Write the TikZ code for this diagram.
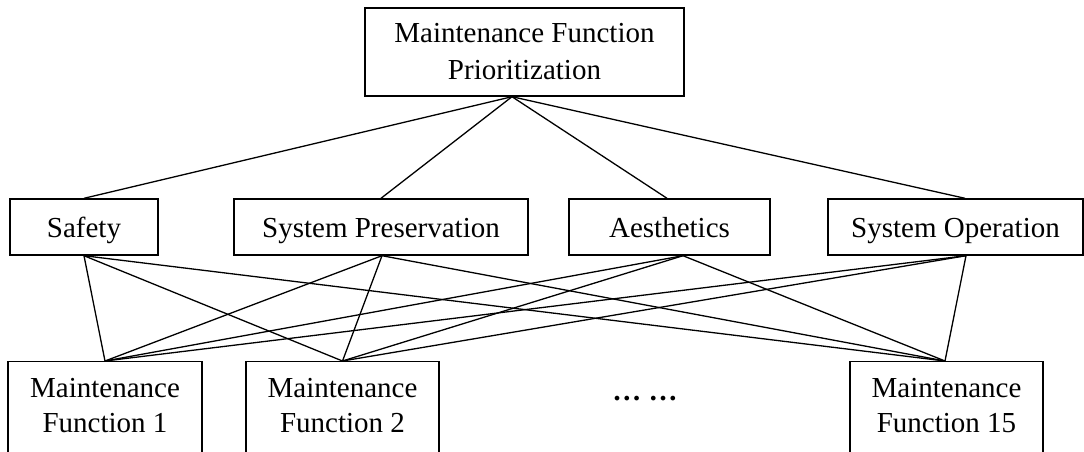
\documentclass[tikz,border=0pt]{standalone}
\usepackage{fontspec}
\setmainfont{Liberation Serif}
\begin{document}
\begin{tikzpicture}[x=1pt,y=-1pt,
  box/.style={draw,line width=1.4pt,inner sep=0pt,align=center,font=\fontsize{29}{35}\selectfont},
  midbox/.style={box,minimum height=56pt,text height=20pt,text depth=0pt},
  botbox/.style={box,anchor=north,inner ysep=17pt,inner xsep=0pt},
  link/.style={line width=1.3pt}]
\useasboundingbox (0,0) rectangle (1084,451);
\node[box,minimum width=319pt,minimum height=88pt,font=\fontsize{29}{37}\selectfont] (top) at (524.5,52) {Maintenance Function\\Prioritization};
\node[midbox,minimum width=148pt] (saf) at (84,227) {Safety};
\node[midbox,minimum width=294pt] (sp) at (381,227) {System Preservation};
\node[midbox,minimum width=201pt] (aes) at (669.5,227) {Aesthetics};
\node[midbox,minimum width=255pt] (so) at (955.5,227) {System Operation};
\node[botbox,minimum width=194pt] (mf1) at (105,361) {Maintenance\\Function 1\rule[-70pt]{0pt}{0pt}};
\node[botbox,minimum width=193pt] (mf2) at (342.5,361) {Maintenance\\Function 2\rule[-70pt]{0pt}{0pt}};
\node[botbox,minimum width=193pt] (mf15) at (946.5,361) {Maintenance\\Function 15\rule[-70pt]{0pt}{0pt}};
\node[anchor=base,inner sep=0pt,font=\fontsize{29}{35}\selectfont\bfseries] (dots) at (645,400) {… …};
% top level links
\draw[link] ([xshift=-12.5pt]top.south) -- (saf.north);
\draw[link] ([xshift=-12.5pt]top.south) -- (sp.north);
\draw[link] ([xshift=-12.5pt]top.south) -- ([xshift=-2.5pt]aes.north);
\draw[link] ([xshift=-12.5pt]top.south) -- ([xshift=9.5pt]so.north);
% criteria to functions
\foreach \c/\s in {saf/0pt,sp/1pt,aes/13.5pt,so/10.5pt}{
  \draw[link] ([xshift=\s]\c.south) -- (mf1.north);
  \draw[link] ([xshift=\s]\c.south) -- (mf2.north);
  \draw[link] ([xshift=\s]\c.south) -- ([xshift=-1.5pt]mf15.north);
}
\end{tikzpicture}
\end{document}
